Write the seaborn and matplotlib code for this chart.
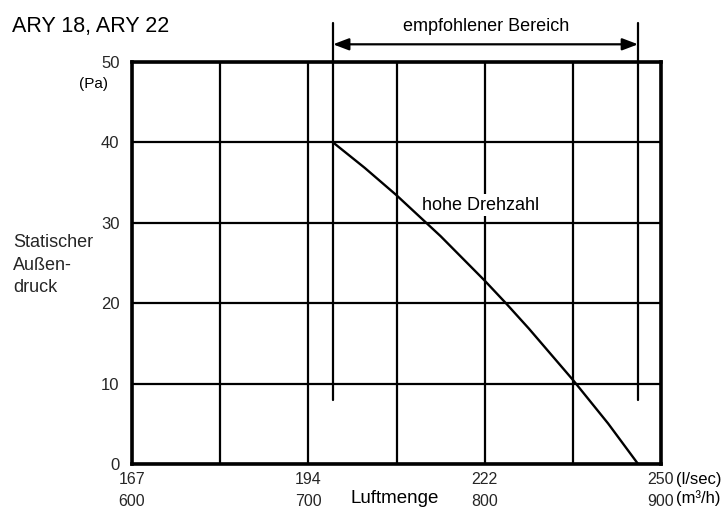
import matplotlib
matplotlib.use("Agg")
import matplotlib.pyplot as plt
import seaborn as sns
import pandas as pd

# --- chart content -------------------------------------------------------
title = "ARY 18, ARY 22"
range_label = "empfohlener Bereich"
curve_label = "hohe Drehzahl"
y_label = "Statischer\nAußen-\ndruck"
y_unit = "(Pa)"
x_label = "Luftmenge"
x_units = ["(l/sec)", "(m\u00b3/h)"]

# fan curve (high speed): air volume in m³/h vs. external static pressure in Pa
airflow_m3h = [714, 732, 750, 775, 800, 812, 825, 850, 870, 887]
pressure_pa = [40, 36.83, 33.43, 28.34, 22.81, 20.01, 16.86, 10.47, 5.04, 0]

# axis ticks
tick_m3h = [600, 700, 800, 900]
tick_ls = ["167", "194", "222", "250"]
minor_m3h = [650, 750, 850]
pressure_ticks = [0, 10, 20, 30, 40, 50]

# recommended operating range
range_m3h = [714, 887]
range_pa = [8.0, 54.9]
range_arrow_pa = 52.2

# --- styling -------------------------------------------------------------
sns.set_theme(style="white")
plt.rcParams["font.family"] = ["Liberation Sans", "DejaVu Sans"]
plt.rcParams["text.color"] = "black"

W, H = 726, 509
fig = plt.figure(figsize=(W / 100, H / 100), dpi=100)
fig.patch.set_facecolor("white")


def fx(px):
    return px / W


def fy(py):
    return 1 - py / H


ax = fig.add_axes([fx(132), fy(464), (661 - 132) / W, (464 - 62) / H])
ax.set_facecolor("white")

df = pd.DataFrame({"Luftmenge": airflow_m3h, "Druck": pressure_pa})
sns.lineplot(data=df, x="Luftmenge", y="Druck", ax=ax, color="black",
             linewidth=1.7, sort=False, zorder=4)

ax.set_xlim(tick_m3h[0], tick_m3h[-1])
ax.set_ylim(pressure_ticks[0], pressure_ticks[-1])

ax.set_xticks(tick_m3h)
ax.set_xticks(minor_m3h, minor=True)
ax.set_xticklabels([f"{a}\n{b}" for a, b in zip(tick_ls, tick_m3h)],
                   fontsize=11.5, linespacing=1.55)
ax.set_yticks(pressure_ticks)
ax.set_yticklabels([str(v) for v in pressure_ticks], fontsize=12)
ax.tick_params(axis="both", which="both", length=0)
ax.tick_params(axis="x", pad=6)
ax.tick_params(axis="y", pad=9)

ax.grid(True, which="both", color="black", linewidth=1.6, zorder=1)
ax.set_axisbelow(True)
for sp in ax.spines.values():
    sp.set_visible(True)
    sp.set_color("black")
    sp.set_linewidth(2.6)

ax.set_xlabel("")
ax.set_ylabel(y_label, rotation=0, fontsize=13, ha="left", va="center",
              linespacing=1.45)
ax.yaxis.set_label_coords(-0.225, 0.495)

# recommended range markers and double arrow
for xv in range_m3h:
    ax.plot([xv, xv], range_pa, color="black", linewidth=1.6,
            clip_on=False, zorder=5)
ax.annotate("", xy=(range_m3h[1], range_arrow_pa),
            xytext=(range_m3h[0], range_arrow_pa),
            annotation_clip=False,
            arrowprops=dict(arrowstyle="<|-|>,head_length=0.95,head_width=0.36",
                            color="black", lw=1.6, shrinkA=0, shrinkB=0,
                            mutation_scale=10))

ax.text(797.6, 32.2, curve_label, fontsize=13, ha="center", va="center",
        zorder=3, bbox=dict(facecolor="white", edgecolor="none", pad=1.5))

# figure-level texts
fig.text(fx(12), fy(32), title, fontsize=15.5, ha="left", va="baseline")
fig.text(fx(486), fy(31), range_label, fontsize=13, ha="center", va="baseline")
fig.text(fx(94), fy(84), y_unit, fontsize=11, ha="center", va="center")
fig.text(fx(395), fy(503), x_label, fontsize=13.5, ha="center", va="baseline")
fig.text(fx(676), fy(484), x_units[0], fontsize=12, ha="left", va="baseline")
fig.text(fx(676), fy(503), x_units[1], fontsize=12, ha="left", va="baseline")

fig.savefig("out.png", dpi=100, facecolor="white")
